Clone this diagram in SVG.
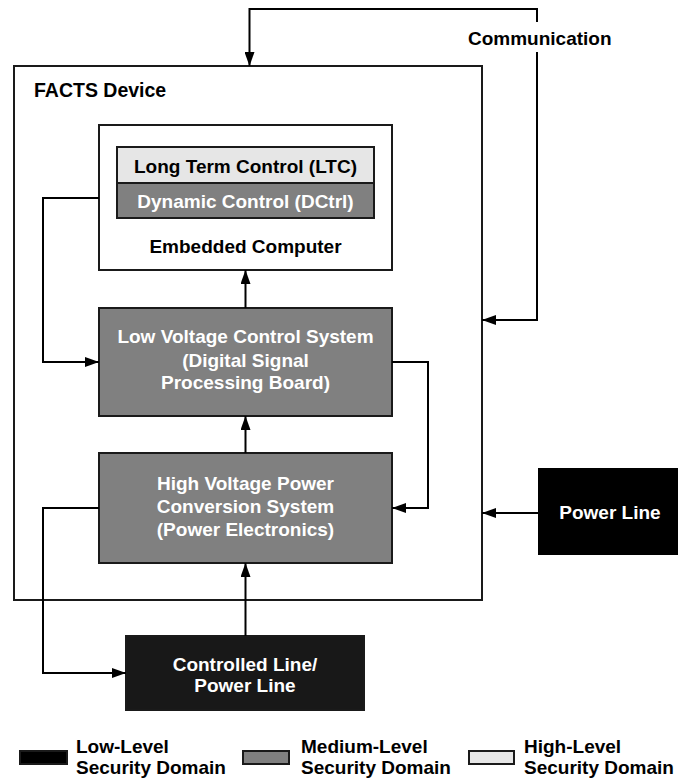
<svg xmlns="http://www.w3.org/2000/svg" width="678" height="778" viewBox="0 0 678 778">
<defs>
<marker id="ah" viewBox="0 0 14 10" refX="14" refY="5" markerWidth="14" markerHeight="10" markerUnits="userSpaceOnUse" orient="auto">
<path d="M0,0 L14,5 L0,10 Z" fill="#000"/>
</marker>
<style>
text{font-family:"Liberation Sans",Arial,sans-serif;font-weight:bold;font-size:19px}
.c{text-anchor:middle}
.w{fill:#fff}
.k{fill:#000}
.box{stroke:#1a1a1a;stroke-width:2}
.ln{fill:none;stroke:#000;stroke-width:2}
</style>
</defs>
<rect width="678" height="778" fill="#fff"/>
<g id="facts">
<rect class="box" x="14" y="66" width="468" height="534" fill="none"/>
<text x="34" y="97" style="font-size:19.5px">FACTS Device</text>
</g>
<g id="embedded">
<rect class="box" x="99" y="125" width="293" height="145" fill="#fff"/>
<text class="c" x="245.5" y="253">Embedded Computer</text>
</g>
<g id="ltc">
<rect class="box" x="117" y="147" width="257" height="36" fill="#e6e6e6"/>
<text class="c" x="245.5" y="173">Long Term Control (LTC)</text>
</g>
<g id="dctrl">
<rect class="box" x="117" y="183" width="257" height="35" fill="#808080"/>
<text class="c w" x="245.5" y="208">Dynamic Control (DCtrl)</text>
</g>
<g id="lvcs">
<rect class="box" x="99" y="308" width="293" height="108" fill="#808080"/>
<text class="c w" x="245.5" y="343">Low Voltage Control System</text>
<text class="c w" x="245.5" y="367">(Digital Signal</text>
<text class="c w" x="245.5" y="389">Processing Board)</text>
</g>
<g id="hvpcs">
<rect class="box" x="99" y="453" width="293" height="110" fill="#808080"/>
<text class="c w" x="245.5" y="490">High Voltage Power</text>
<text class="c w" x="245.5" y="513">Conversion System</text>
<text class="c w" x="245.5" y="536">(Power Electronics)</text>
</g>
<g id="controlled">
<rect class="box" x="126" y="636" width="238" height="74" fill="#181818"/>
<text class="c w" x="245" y="671">Controlled Line/</text>
<text class="c w" x="245" y="692">Power Line</text>
</g>
<g id="powerline">
<rect x="538" y="468" width="142" height="87" fill="#000"/>
<text class="c w" x="610" y="519">Power Line</text>
</g>
<g id="comm-label">
<text x="468" y="45">Communication</text>
</g>
<g id="connectors">
<path class="ln" d="M537,22 L537,9 L249.5,9 L249.5,66" marker-end="url(#ah)"/>
<path class="ln" d="M537,52 L537,320 L482,320" marker-end="url(#ah)"/>
<path class="ln" d="M245.5,308 L245.5,270" marker-end="url(#ah)"/>
<path class="ln" d="M245.5,453 L245.5,416" marker-end="url(#ah)"/>
<path class="ln" d="M245.5,636 L245.5,563" marker-end="url(#ah)"/>
<path class="ln" d="M99,198 L43,198 L43,362 L99,362" marker-end="url(#ah)"/>
<path class="ln" d="M392,362 L428,362 L428,508 L392,508" marker-end="url(#ah)"/>
<path class="ln" d="M99,508 L43,508 L43,673 L126,673" marker-end="url(#ah)"/>
<path class="ln" d="M538,513 L482,513" marker-end="url(#ah)"/>
</g>
<g id="legend">
<rect class="box" x="20" y="751" width="47" height="13" fill="#000"/>
<text x="76" y="753">Low-Level</text>
<text x="76" y="774">Security Domain</text>
<rect class="box" x="243" y="751" width="46" height="13" fill="#808080"/>
<text x="301" y="753">Medium-Level</text>
<text x="301" y="774">Security Domain</text>
<rect class="box" x="469" y="751" width="45" height="13" fill="#e6e6e6"/>
<text x="524" y="753">High-Level</text>
<text x="524" y="774">Security Domain</text>
</g>
</svg>
